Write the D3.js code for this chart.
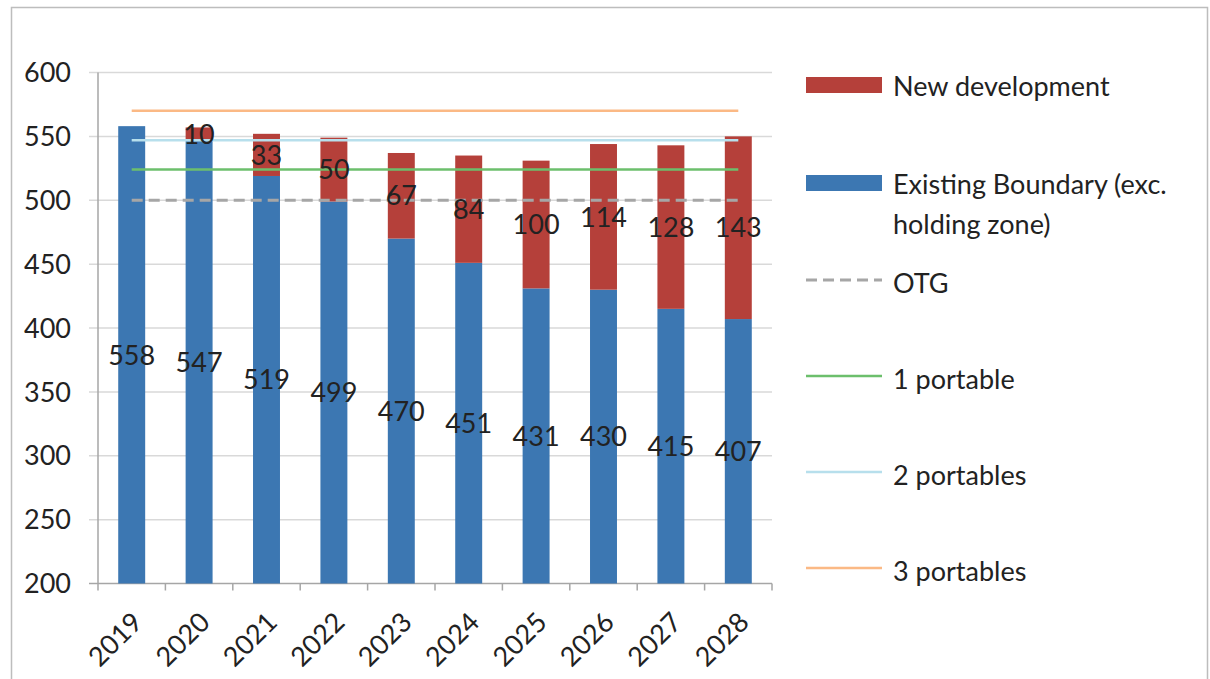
<!DOCTYPE html>
<html>
<head>
<meta charset="utf-8">
<script src="https://cdn.jsdelivr.net/npm/d3@7"></script>
<style>
  body { margin: 0; background: #fff; }
  svg text { font-family: Lato, "Open Sans", sans-serif; fill: #222; }
</style>
</head>
<body>
<div id="chart"></div>
<script>
// 데이터
const years = ["2019", "2020", "2021", "2022", "2023", "2024", "2025", "2026", "2027", "2028"];
const existing = [558, 547, 519, 499, 470, 451, 431, 430, 415, 407];
const newDev = [0, 10, 33, 50, 67, 84, 100, 114, 128, 143];
const yTicks = [200, 250, 300, 350, 400, 450, 500, 550, 600];
const refLines = [
  { name: "OTG", value: 500, color: "#a6a6a6", dash: "11,6", width: 3 },
  { name: "1 portable", value: 524, color: "#6cbf6c", dash: null, width: 2.5 },
  { name: "2 portables", value: 547, color: "#b7dfec", dash: null, width: 2.5 },
  { name: "3 portables", value: 570, color: "#fbb985", dash: null, width: 2.5 },
];

const W = 1210, H = 679;
const blue = "#3c77b2", red = "#b5403a";
const fs = 27;

const svg = d3.select("#chart").append("svg").attr("width", W).attr("height", H);

// 바깥 테두리
svg.append("path")
  .attr("d", "M11.5,690 L11.5,7.5 L1207.5,7.5 L1207.5,690")
  .attr("fill", "none").attr("stroke", "#bdbdbd").attr("stroke-width", 1.5);

const pL = 98, pR = 772, pT = 72.5, pB = 583.5;

const y = d3.scaleLinear().domain([200, 600]).range([pB, pT]);
const x = d3.scaleBand().domain(years).range([pL, pR]).paddingInner(0.6).paddingOuter(0.3);
const edge = d3.scaleLinear().domain([0, years.length]).range([pL, pR]);

// 그리드
svg.append("g").selectAll("line").data(yTicks).join("line")
  .attr("x1", pL - 9).attr("x2", pR)
  .attr("y1", d => y(d)).attr("y2", d => y(d))
  .attr("stroke", d => d === 200 ? "#a6a6a6" : "#d9d9d9").attr("stroke-width", 1.5);

// y 축
svg.append("line").attr("x1", pL).attr("x2", pL).attr("y1", pT).attr("y2", pB)
  .attr("stroke", "#a6a6a6").attr("stroke-width", 1.5);
svg.append("g").selectAll("text").data(yTicks).join("text")
  .attr("x", 71).attr("y", d => y(d)).attr("dy", "0.36em")
  .attr("text-anchor", "end").attr("font-size", fs)
  .text(d => d);

// x 축 눈금
svg.append("g").selectAll("line").data(d3.range(years.length + 1)).join("line")
  .attr("x1", d => edge(d)).attr("x2", d => edge(d))
  .attr("y1", pB).attr("y2", pB + 7)
  .attr("stroke", "#a6a6a6").attr("stroke-width", 1.5);
svg.append("g").selectAll("text").data(years).join("text")
  .attr("transform", d => `translate(${x(d) + x.bandwidth() / 2 - 1},${pB + 27}) rotate(-45)`)
  .attr("text-anchor", "end").attr("dy", "0.7em").attr("font-size", fs)
  .text(d => d);

// 막대
const bars = svg.append("g");
bars.selectAll("rect.ex").data(years).join("rect").attr("class", "ex")
  .attr("x", d => x(d)).attr("width", x.bandwidth())
  .attr("y", (d, i) => y(existing[i])).attr("height", (d, i) => y(200) - y(existing[i]))
  .attr("fill", blue);
bars.selectAll("rect.nd").data(years).join("rect").attr("class", "nd")
  .attr("x", d => x(d)).attr("width", x.bandwidth())
  .attr("y", (d, i) => y(existing[i] + newDev[i])).attr("height", (d, i) => y(existing[i]) - y(existing[i] + newDev[i]))
  .attr("fill", red);

// 기준선
const cx0 = x(years[0]) + x.bandwidth() / 2, cx1 = x(years[years.length - 1]) + x.bandwidth() / 2;
svg.append("g").selectAll("line").data(refLines).join("line")
  .attr("x1", cx0).attr("x2", cx1)
  .attr("y1", d => y(d.value)).attr("y2", d => y(d.value))
  .attr("stroke", d => d.color).attr("stroke-width", d => d.width)
  .attr("stroke-dasharray", d => d.dash);

// 데이터 라벨
const labels = svg.append("g").attr("font-size", fs).attr("text-anchor", "middle");
labels.selectAll("text.ex").data(years).join("text").attr("class", "ex")
  .attr("x", d => x(d) + x.bandwidth() / 2)
  .attr("y", (d, i) => y((200 + existing[i]) / 2)).attr("dy", "0.36em")
  .text((d, i) => existing[i]);
labels.selectAll("text.nd").data(years.filter((d, i) => newDev[i] > 0)).join("text").attr("class", "nd")
  .attr("x", d => x(d) + x.bandwidth() / 2)
  .attr("y", d => { const i = years.indexOf(d); return y(existing[i] + newDev[i] / 2); }).attr("dy", "0.36em")
  .text(d => newDev[years.indexOf(d)]);

// 범례
const lg = svg.append("g");
const lx = 806, lw = 76, tx = 893;
lg.append("rect").attr("x", lx).attr("y", 77).attr("width", lw).attr("height", 16).attr("fill", red);
lg.append("text").attr("x", tx).attr("y", 86).attr("dy", "0.36em").attr("font-size", fs).text("New development");
lg.append("rect").attr("x", lx).attr("y", 175).attr("width", lw).attr("height", 16).attr("fill", blue);
lg.append("text").attr("x", tx).attr("y", 184).attr("dy", "0.36em").attr("font-size", fs).text("Existing Boundary (exc.");
lg.append("text").attr("x", tx).attr("y", 224).attr("dy", "0.36em").attr("font-size", fs).text("holding zone)");
const legY = [280, 376, 472, 568];
refLines.forEach((d, i) => {
  lg.append("line").attr("x1", lx).attr("x2", lx + lw).attr("y1", legY[i]).attr("y2", legY[i])
    .attr("stroke", d.color).attr("stroke-width", d.width).attr("stroke-dasharray", d.dash);
  lg.append("text").attr("x", tx).attr("y", legY[i] + 3).attr("dy", "0.36em").attr("font-size", fs).text(d.name);
});
</script>
</body>
</html>
